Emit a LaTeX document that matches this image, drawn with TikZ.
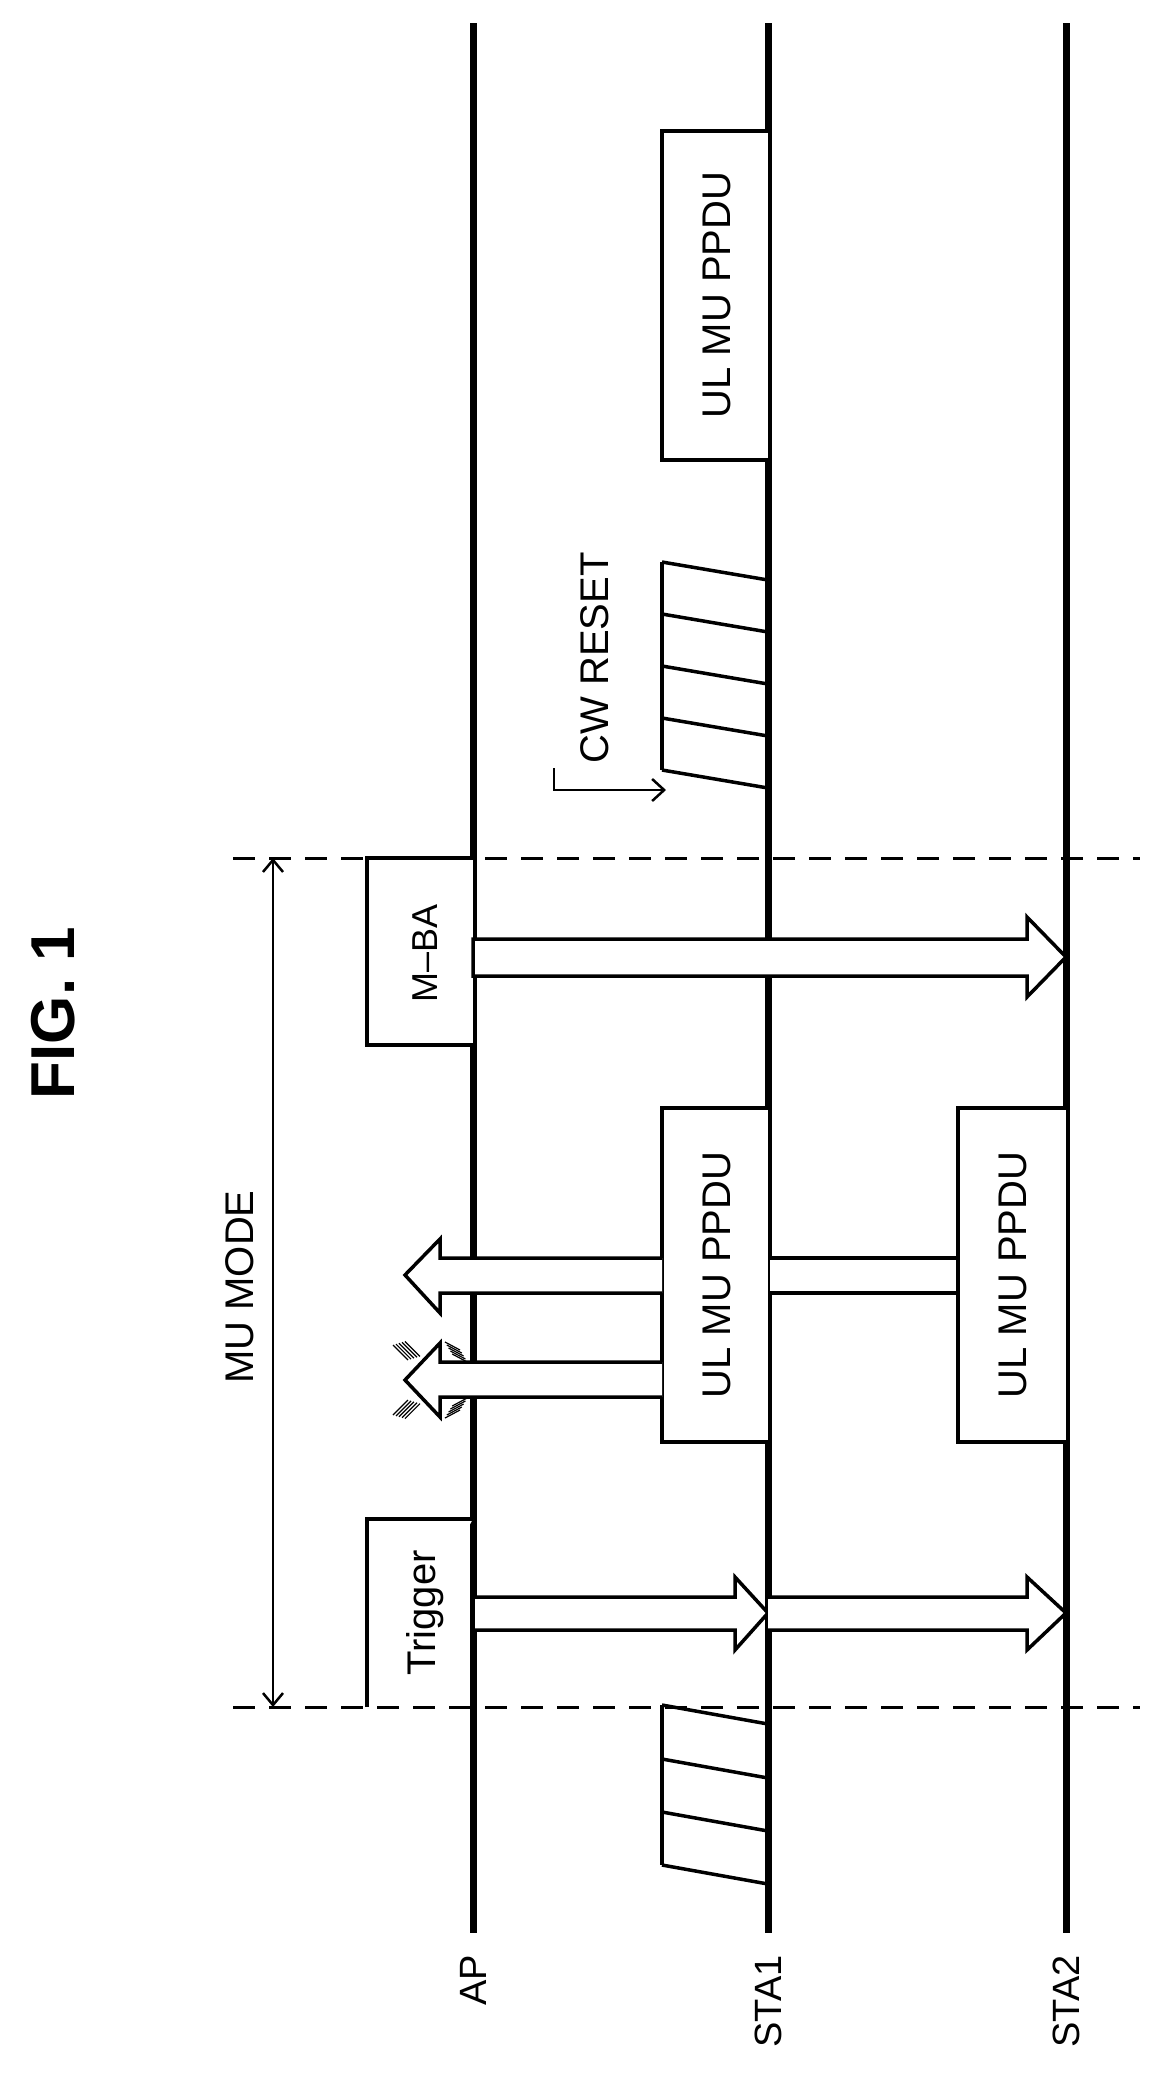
\documentclass[tikz,border=0pt]{standalone}
\usepackage{fontspec}
\setmainfont{Liberation Sans}
\usetikzlibrary{arrows.meta}
\begin{document}
\begin{tikzpicture}[x=1pt,y=-1pt,
  life/.style={line width=7pt},
  box/.style={line width=3.5pt,fill=white},
  harrow/.style={line width=3.5pt,fill=white,line join=miter},
  dashline/.style={line width=3pt,dash pattern=on 22pt off 14pt},
  lbl/.style={rotate=90,font=\fontsize{40}{44}\selectfont,inner sep=0pt},
  slat/.style={line width=3.5pt}]
\useasboundingbox (0,0) rectangle (1161,2078);
% lifelines
\draw[life] (473,23) -- (473,1933);
\draw[life] (768,23) -- (768,1933);
\draw[life] (1066,23) -- (1066,1933);
\node[lbl,font=\fontsize{38}{42}\selectfont,anchor=east] (ap) at (473,1955) {AP};
\node[lbl,font=\fontsize{38}{42}\selectfont,anchor=east] (sta1) at (768,1955) {STA1};
\node[lbl,font=\fontsize{38}{42}\selectfont,anchor=east] (sta2) at (1066,1955) {STA2};
% title
\node[rotate=90,font=\bfseries\fontsize{62}{66}\selectfont] (fig) at (53,1013) {FIG. 1};
% dashed lines
\draw[dashline] (233,858) -- (1140,858);
\draw[dashline] (233,1707) -- (1140,1707);
\coordinate (mut) at (273,858);
\coordinate (mub) at (273,1707);
\draw[line width=2.5pt,<->,>={Straight Barb[length=12pt,width=20pt]}] (mut) -- (mub);
\node[lbl] (mu) at (240,1287) {MU MODE};
% upper UL MU PPDU
\draw[box] (768,131) -- (662,131) -- (662,460) -- (768,460);
\node[lbl] (ul1) at (717,295) {UL MU PPDU};
% backoff upper
\draw[slat] (662,562) -- (662,770);
\foreach \yy in {562,614,666,718,770} \draw[slat] (662,\yy) -- (768,\yy+18);
\node[lbl] (cw) at (595,658) {CW RESET};
\coordinate (cwa) at (554,768);
\coordinate (cwb) at (666,790);
\draw[line width=2.5pt,->,>={Straight Barb[length=12pt,width=22pt]}] (cwa) |- (cwb);
% M-BA
\draw[box] (473,858) -- (367,858) -- (367,1045) -- (473,1045);
\node[lbl,font=\fontsize{36}{40}\selectfont] (mba) at (425,953) {M--BA};
\draw[harrow] (473,939) -- (1027,939) -- (1027,917) -- (1066,957) -- (1027,997) -- (1027,976) -- (473,976) -- cycle;
% lower UL MU PPDU boxes
\draw[box] (768,1108) -- (662,1108) -- (662,1442) -- (768,1442);
\draw[box] (1066,1108) -- (958,1108) -- (958,1442) -- (1066,1442);
\node[lbl] (ul2) at (717,1275) {UL MU PPDU};
\node[lbl] (ul3) at (1013,1275) {UL MU PPDU};
% left arrows
\fill[white] (770,1260) rectangle (956,1291);
\draw[line width=3.5pt] (768,1258) -- (958,1258) (768,1293) -- (958,1293);
\draw[harrow] (662,1258) -- (440,1258) -- (440,1239) -- (405,1275) -- (440,1313) -- (440,1293) -- (662,1293);
\draw[harrow] (662,1362) -- (440,1362) -- (440,1343) -- (405,1380) -- (440,1417) -- (440,1397) -- (662,1397);
% hatch cross marks
\foreach \d in {0,3,6,9,12} {
  \draw[line width=1.2pt] (393+\d,1345-\d*0.3) -- (408+\d,1360-\d*0.3);
  \draw[line width=1.2pt] (393+\d,1415+\d*0.3) -- (408+\d,1400+\d*0.3);
  \draw[line width=1.2pt] (445+\d*0.6,1342+\d) -- (460+\d*0.6,1350+\d);
  \draw[line width=1.2pt] (445+\d*0.6,1418-\d) -- (460+\d*0.6,1410-\d);
}
% Trigger
\draw[box] (473,1519) -- (367,1519) -- (367,1707);
\node[lbl] (trg) at (425,1613) {Trigger};
\draw[harrow] (473,1597) -- (735,1597) -- (735,1577) -- (768,1613) -- (735,1650) -- (735,1630) -- (473,1630) -- cycle;
\draw[harrow] (768,1597) -- (1027,1597) -- (1027,1577) -- (1066,1613) -- (1027,1650) -- (1027,1630) -- (768,1630);
% backoff lower
\draw[slat] (662,1705) -- (662,1865);
\foreach \yy in {1705,1759,1812,1865} \draw[slat] (662,\yy) -- (768,\yy+19);
\end{tikzpicture}
\end{document}
